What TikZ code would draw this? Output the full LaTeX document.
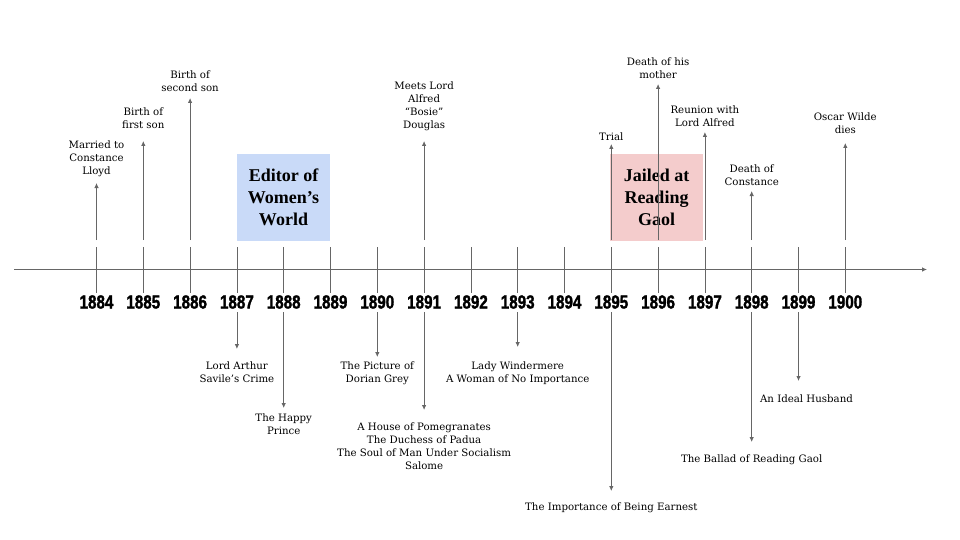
\documentclass[tikz,border=0pt]{standalone}
\usepackage{fontspec}
\setmainfont{DejaVu Serif}
\newfontfamily\boxfont{Liberation Serif}
\newfontfamily\yearfont[FakeStretch=0.8, FakeBold=1.5]{Liberation Sans}
\usepackage{tikz}
\usetikzlibrary{arrows.meta}
\definecolor{axisgray}{RGB}{102, 102, 102}
\definecolor{editblue}{RGB}{201, 218, 248}
\definecolor{jailpink}{RGB}{244, 204, 204}

\tikzset{
  evarrow/.style={draw=axisgray, line width=0.8pt, -{Latex[length=5pt, width=4.5pt]}},
  yeartick/.style={draw=axisgray, line width=0.8pt},
  evlabel/.style={anchor=north, inner sep=0pt, align=center, text=black,
    font=\fontsize{10.2}{12.8}\selectfont},
  yearlabel/.style={inner sep=0pt, font=\yearfont\bfseries\fontsize{19}{19}\selectfont},
  periodbox/.style={minimum width=93pt, minimum height=87pt, inner sep=0pt, align=center,
    font=\boxfont\bfseries\fontsize{18}{22}\selectfont}
}

\begin{document}
\begin{tikzpicture}[x=1pt, y=-1pt]

\useasboundingbox (0, 0) rectangle (960, 540);

\pgfmathsetmacro{\xo}{96.5}
\pgfmathsetmacro{\dx}{46.8}

% periods
\node[periodbox, fill=editblue] (editor) at (283.5, 197.5) {Editor of\\Women’s\\World};
\node[periodbox, fill=jailpink] (gaol) at (656.5, 197.5) {Jailed at\\Reading\\Gaol};

% time axis
\coordinate (start) at (14, 269.5);
\coordinate (end) at (927, 269.5);
\draw[evarrow] (start) -- (end);

\foreach \yr in {1884, ..., 1900} {
  \pgfmathsetmacro{\xx}{\xo + \dx * (\yr - 1884)}
  \draw[yeartick] (\xx, 247) -- (\xx, 293);
  \node[yearlabel] (y\yr) at (\xx, 302) {\yr};
}

% life events, above the axis
\foreach \yr/\ty/\tip/\txt in {
    1884/145/183/{Married to\\Constance\\Lloyd},
    1885/112/141/{Birth of\\first son},
    1886/75/98/{Birth of\\second son},
    1891/86/141/{Meets Lord\\Alfred\\“Bosie”\\Douglas},
    1895/137/144/{Trial},
    1896/62/84/{Death of his\\mother},
    1897/110/132/{Reunion with\\Lord Alfred},
    1898/169/191/{Death of\\Constance},
    1900/117/143/{Oscar Wilde\\dies}} {
  \pgfmathsetmacro{\xx}{\xo + \dx * (\yr - 1884)}
  \coordinate (ub\yr) at (\xx, 240);
  \coordinate (ut\yr) at (\xx, \tip);
  \node[evlabel] (up\yr) at (\xx, \ty - 4) {\txt};
  \draw[evarrow] (ub\yr) -- (ut\yr);
}

% works, below the axis
\foreach \yr/\ty/\tip/\sh/\txt in {
    1887/366/349/0/{Lord Arthur\\Savile’s Crime},
    1888/418/408/0/{The Happy\\Prince},
    1890/366/357/0/{The Picture of\\Dorian Grey},
    1891/427/410/0/{A House of Pomegranates\\The Duchess of Padua\\The Soul of Man Under Socialism\\Salome},
    1893/366/347/0/{Lady Windermere\\A Woman of No Importance},
    1895/507/491/0/{The Importance of Being Earnest},
    1898/459/442/0/{The Ballad of Reading Gaol},
    1899/399/381/8/{An Ideal Husband}} {
  \pgfmathsetmacro{\xx}{\xo + \dx * (\yr - 1884)}
  \coordinate (db\yr) at (\xx, 312);
  \coordinate (dt\yr) at (\xx, \tip);
  \node[evlabel] (dn\yr) at (\xx + \sh, \ty - 4) {\txt};
  \draw[evarrow] (db\yr) -- (dt\yr);
}

\end{tikzpicture}
\end{document}
